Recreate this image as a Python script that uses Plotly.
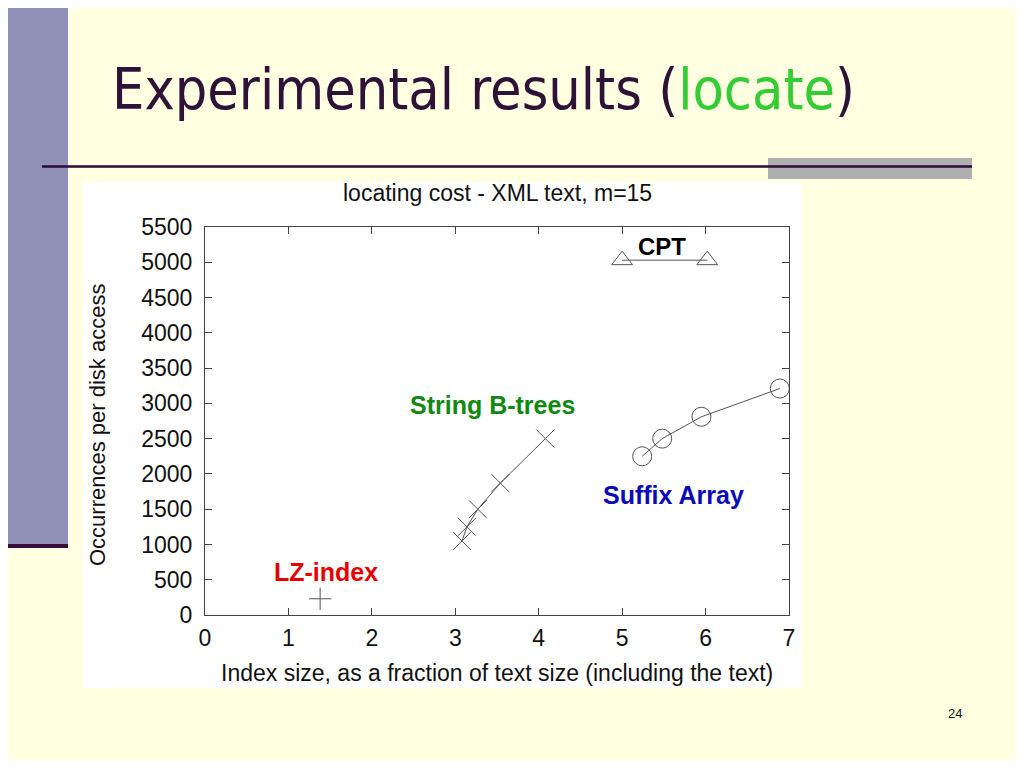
import plotly.graph_objects as go

# ---- data ----
lz_x = [1.38]
lz_y = [230]

sbt_x = [3.08, 3.14, 3.27, 3.54, 4.08]
sbt_y = [1050, 1250, 1500, 1870, 2500]

sa_x = [5.24, 5.48, 5.95, 6.89]
sa_y = [2250, 2500, 2810, 3210]

cpt_x = [5.0, 6.02]
cpt_y = [5030, 5030]

x_ticks = [0, 1, 2, 3, 4, 5, 6, 7]
y_ticks = [0, 500, 1000, 1500, 2000, 2500, 3000, 3500, 4000, 4500, 5000, 5500]

# page has an 8px body margin; figure fills the rest of the 1024x768 window
OFF = 8
W, H = 1024 - 2 * OFF, 768 - 2 * OFF
def px(x):
    return (x - OFF) / W
def py(y):
    return 1 - (y - OFF) / H

LINE = "#555555"
fig = go.Figure()

fig.add_trace(go.Scatter(x=lz_x, y=lz_y, mode="markers",
                         marker=dict(symbol="cross-thin-open", size=16, color=LINE,
                                     line=dict(color=LINE, width=1)),
                         showlegend=False))
fig.add_trace(go.Scatter(x=sbt_x, y=sbt_y, mode="lines+markers",
                         line=dict(color=LINE, width=1),
                         marker=dict(symbol="x-thin-open", size=18, color=LINE,
                                     line=dict(color=LINE, width=1)),
                         showlegend=False))
fig.add_trace(go.Scatter(x=sa_x, y=sa_y, mode="lines+markers",
                         line=dict(color=LINE, width=1),
                         marker=dict(symbol="circle-open", size=19, color=LINE,
                                     line=dict(color=LINE, width=1)),
                         showlegend=False))
fig.add_trace(go.Scatter(x=cpt_x, y=cpt_y, mode="lines+markers",
                         line=dict(color=LINE, width=1),
                         marker=dict(symbol="triangle-up-open", size=18, color=LINE,
                                     line=dict(color=LINE, width=1)),
                         showlegend=False))

FONT = "Liberation Sans, Arial, sans-serif"
axis_common = dict(showgrid=False, zeroline=False, showline=True, linecolor="#444444", linewidth=1,
                   mirror="ticks", ticks="inside", ticklen=7, tickcolor="#444444", automargin=False,
                   tickfont=dict(family=FONT, size=23, color="#111111"))

fig.update_xaxes(range=[0, 7], tickvals=x_ticks, domain=[px(205), px(789)],
                 ticklabelstandoff=2, **axis_common)
fig.update_yaxes(range=[0, 5500], tickvals=y_ticks, domain=[py(615), py(227)],
                 ticklabelstandoff=7, **axis_common)

shapes = [
    # left bar
    dict(type="rect", xref="paper", yref="paper", x0=px(0), x1=px(68), y0=py(545), y1=py(0),
         fillcolor="#9090B8", line=dict(width=0), layer="below"),
    dict(type="line", xref="paper", yref="paper", x0=px(0), x1=px(68), y0=py(546), y1=py(546),
         line=dict(color="#3A0C3A", width=4), layer="below"),
    # gray block
    dict(type="rect", xref="paper", yref="paper", x0=px(768), x1=px(972), y0=py(179), y1=py(158),
         fillcolor="#AFAFAF", line=dict(width=0), layer="below"),
    # horizontal line
    dict(type="line", xref="paper", yref="paper", x0=px(42), x1=px(972), y0=py(166.5), y1=py(166.5),
         line=dict(color="#2E0A36", width=2.5), layer="below"),
    # white chart box
    dict(type="rect", xref="paper", yref="paper", x0=px(83), x1=px(802), y0=py(688), y1=py(182),
         fillcolor="white", line=dict(width=0), layer="below"),
]

annotations = [
    dict(text='Experimental results (<span style="color:#33CC33">locate</span>)',
         xref="paper", yref="paper", x=px(110), y=py(89), xanchor="left", yanchor="middle",
         showarrow=False, font=dict(family="DejaVu Sans Condensed, DejaVu Sans", size=57, color="#2E1238")),
    dict(text="locating cost - XML text, m=15", xref="paper", yref="paper", x=px(497), y=py(193),
         xanchor="center", yanchor="middle", showarrow=False,
         font=dict(family=FONT, size=23, color="#111111")),
    dict(text="Occurrences per disk access", xref="paper", yref="paper", x=px(97), y=py(425),
         xanchor="center", yanchor="middle", textangle=-90, showarrow=False,
         font=dict(family=FONT, size=22, color="#111111")),
    dict(text="Index size, as a fraction of text size (including the text)", xref="paper", yref="paper",
         x=px(497), y=py(673), xanchor="center", yanchor="middle", showarrow=False,
         font=dict(family=FONT, size=23, color="#111111")),
    dict(text="<b>CPT</b>", x=5.48, y=5230, xref="x", yref="y", showarrow=False,
         font=dict(family=FONT, size=24, color="#000000")),
    dict(text="<b>String B-trees</b>", x=3.45, y=2977, xref="x", yref="y", showarrow=False,
         font=dict(family=FONT, size=25, color="#118811")),
    dict(text="<b>Suffix Array</b>", x=5.62, y=1701, xref="x", yref="y", showarrow=False,
         font=dict(family=FONT, size=25, color="#0A0AB8")),
    dict(text="<b>LZ-index</b>", x=1.45, y=610, xref="x", yref="y", showarrow=False,
         font=dict(family=FONT, size=25, color="#E80000")),
    dict(text="24", xref="paper", yref="paper", x=px(955), y=py(713), xanchor="center", yanchor="middle",
         showarrow=False, font=dict(family=FONT, size=13, color="#111111")),
]

fig.update_layout(width=W, height=H, template="none",
                  margin=dict(l=0, r=0, t=0, b=0, pad=0, autoexpand=False),
                  paper_bgcolor="#FFFFE2", plot_bgcolor="rgba(0,0,0,0)",
                  shapes=shapes, annotations=annotations)

fig.write_html("out.html")
